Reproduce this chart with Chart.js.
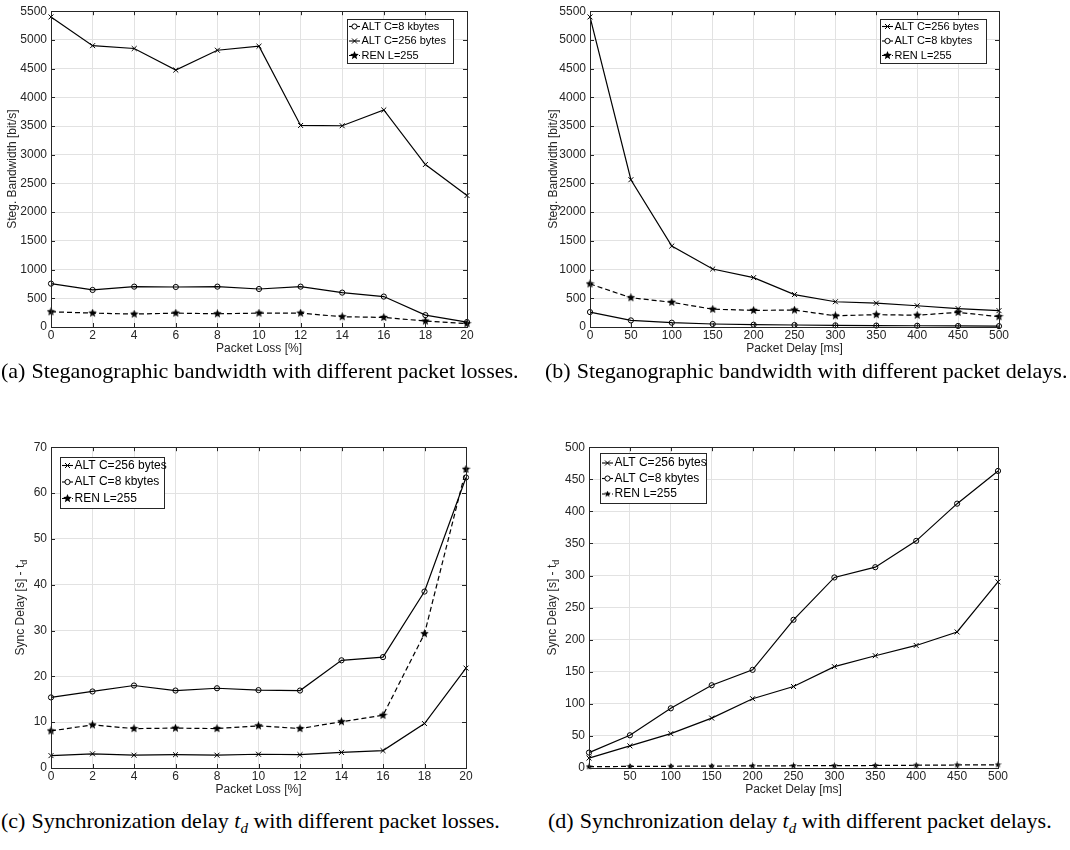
<!DOCTYPE html>
<html>
<head>
<meta charset="utf-8">
<script src="https://cdn.jsdelivr.net/npm/chart.js@4.4.0/dist/chart.umd.min.js"></script>
<style>
    body { margin: 0; background: #fff; width: 1070px; height: 850px; position: relative; overflow: hidden; }
    .panel { position: absolute; }
    .cap { position: absolute; font-family: "Liberation Serif", "Times New Roman", serif; font-size: 22px; line-height: 24px; color: #000; white-space: nowrap; }
    .cap .lbl { margin-right: 6px; }
</style>
</head>
<body>
<div class="panel" style="left:0px;top:0px"><canvas id="chartA" width="530" height="360"></canvas></div>
<div class="panel" style="left:530px;top:0px"><canvas id="chartB" width="540" height="360"></canvas></div>
<div class="panel" style="left:0px;top:436px"><canvas id="chartC" width="530" height="365"></canvas></div>
<div class="panel" style="left:530px;top:436px"><canvas id="chartD" width="540" height="365"></canvas></div>

<div class="cap" style="left:1px;top:359px"><span class="lbl">(a)</span>Steganographic bandwidth with different packet losses.</div>
<div class="cap" style="left:545px;top:359px"><span class="lbl">(b)</span>Steganographic bandwidth with different packet delays.</div>
<div class="cap" style="left:1px;top:809px"><span class="lbl">(c)</span>Synchronization delay <i>t<sub style="font-size:15px">d</sub></i> with different packet losses.</div>
<div class="cap" style="left:548px;top:809px"><span class="lbl">(d)</span>Synchronization delay <i>t<sub style="font-size:15px">d</sub></i> with different packet delays.</div>

<script>
// x values
const lossX = [0, 2, 4, 6, 8, 10, 12, 14, 16, 18, 20];
const delayX = [0, 50, 100, 150, 200, 250, 300, 350, 400, 450, 500];

// (a) bandwidth vs packet loss
const bwLoss8k = [755, 645, 703, 697, 703, 662, 703, 599, 530, 207, 86];
const bwLoss256 = [5400, 4900, 4850, 4475, 4820, 4890, 3510, 3505, 3780, 2830, 2290];
const bwLossRen = [265, 242, 225, 242, 230, 242, 242, 179, 167, 104, 58];

// (b) bandwidth vs packet delay
const bwDelay256 = [5400, 2565, 1410, 1010, 860, 565, 440, 415, 370, 320, 285];
const bwDelay8k = [260, 115, 75, 52, 40, 35, 29, 25, 22, 18, 15];
const bwDelayRen = [750, 510, 430, 310, 290, 295, 195, 215, 205, 255, 180];

// (c) sync delay vs packet loss
const syncLoss256 = [2.7, 3.1, 2.8, 2.9, 2.8, 3.0, 2.9, 3.4, 3.8, 9.7, 21.8];
const syncLoss8k = [15.4, 16.7, 18.0, 16.9, 17.4, 17.0, 16.9, 23.5, 24.2, 38.5, 63.4];
const syncLossRen = [8.1, 9.4, 8.6, 8.7, 8.6, 9.2, 8.6, 10.1, 11.5, 29.3, 65.2];

// (d) sync delay vs packet delay
const syncDelay256 = [15.5, 34.5, 53.6, 77.8, 108, 127, 158, 175, 191, 212, 290];
const syncDelay8k = [24, 51, 93, 129, 153, 231, 297, 313, 354, 412, 463];
const syncDelayRen = [2, 2.5, 2.7, 3, 3.3, 3.5, 3.7, 3.9, 4.3, 4.7, 5];

// axis ranges / tick steps
const bwMax = 5500, bwStep = 500;
const syncLossMax = 70, syncLossStep = 10;
const syncDelayMax = 500, syncDelayStep = 50;

const LABEL_256 = 'ALT C=256 bytes';
const LABEL_8K = 'ALT C=8 kbytes';
const LABEL_REN = 'REN L=255';

const AXIS_COLOR = '#262626';
const FONT = "'Liberation Sans', Arial, sans-serif";

// filled star marker
function starImage(size) {
    const c = document.createElement('canvas');
    c.width = c.height = size;
    const g = c.getContext('2d');
    const cx = size / 2, R = size / 2, r = R * 0.45;
    g.beginPath();
    for (let i = 0; i < 10; i++) {
        const ang = -Math.PI / 2 + i * Math.PI / 5;
        const rad = i % 2 ? r : R;
        g.lineTo(cx + rad * Math.cos(ang), cx + rad * Math.sin(ang));
    }
    g.closePath();
    g.fillStyle = '#000';
    g.fill();
    return c;
}
const starBig = starImage(9);
const starSmall = starImage(7);

function series(label, xs, ys, kind, star) {
    const ds = {
        label: label,
        data: xs.map((x, i) => ({ x: x, y: ys[i] })),
        borderColor: '#000',
        borderWidth: 1.2,
        tension: 0,
        fill: false,
        clip: false,
        pointBorderColor: '#000',
        pointBackgroundColor: 'rgba(0,0,0,0)',
        pointBorderWidth: 1,
        kind: kind
    };
    if (kind === 'circle') {
        ds.pointStyle = 'circle';
        ds.pointRadius = 2.6;
    } else if (kind === 'cross') {
        ds.pointStyle = 'crossRot';
        ds.pointRadius = 3.5;
    } else {
        ds.pointStyle = star || starBig;
        ds.pointRadius = 4;
        ds.borderDash = [5, 3];
    }
    return ds;
}

function drawMarker(ctx, ds, x, y) {
    ctx.save();
    ctx.setLineDash([]);
    ctx.lineWidth = 1;
    ctx.strokeStyle = '#000';
    if (ds.kind === 'circle') {
        ctx.beginPath();
        ctx.arc(x, y, 2.6, 0, Math.PI * 2);
        ctx.fillStyle = '#fff';
        ctx.fill();
        ctx.stroke();
    } else if (ds.kind === 'cross') {
        const r = 2.5;
        ctx.beginPath();
        ctx.moveTo(x - r, y - r); ctx.lineTo(x + r, y + r);
        ctx.moveTo(x - r, y + r); ctx.lineTo(x + r, y - r);
        ctx.stroke();
    } else {
        const img = ds.pointStyle;
        ctx.drawImage(img, x - img.width / 2, y - img.height / 2);
    }
    ctx.restore();
}

// MATLAB-like box, inward ticks, boxed legend, optional subscripted y title
const matlabAxes = {
    id: 'matlabAxes',
    afterDatasetsDraw(chart, args, opts) {
        const { ctx, chartArea: a, scales: { x, y } } = chart;
        ctx.save();
        ctx.strokeStyle = AXIS_COLOR;
        ctx.lineWidth = 1;
        ctx.setLineDash([]);
        ctx.beginPath();
        x.ticks.forEach(t => {
            const px = Math.round(x.getPixelForValue(t.value)) + 0.5;
            ctx.moveTo(px, a.bottom); ctx.lineTo(px, a.bottom - 4);
            ctx.moveTo(px, a.top); ctx.lineTo(px, a.top + 4);
        });
        y.ticks.forEach(t => {
            const py = Math.round(y.getPixelForValue(t.value)) + 0.5;
            ctx.moveTo(a.left, py); ctx.lineTo(a.left + 4, py);
            ctx.moveTo(a.right, py); ctx.lineTo(a.right - 4, py);
        });
        ctx.stroke();
        ctx.strokeRect(Math.round(a.left) + 0.5, Math.round(a.top) + 0.5,
            Math.round(a.right - a.left), Math.round(a.bottom - a.top));

        // legend
        const L = opts.legend;
        if (L) {
            ctx.fillStyle = '#fff';
            ctx.fillRect(L.x, L.y, L.w, L.h);
            ctx.strokeStyle = AXIS_COLOR;
            ctx.strokeRect(L.x + 0.5, L.y + 0.5, L.w, L.h);
            ctx.font = L.font + 'px ' + FONT;
            ctx.textBaseline = 'middle';
            ctx.textAlign = 'left';
            chart.data.datasets.forEach((ds, i) => {
                const ry = L.y + L.start + i * L.gap;
                ctx.save();
                ctx.strokeStyle = '#000';
                ctx.lineWidth = 1.1;
                ctx.setLineDash(ds.kind === 'star' ? [3, 2] : []);
                ctx.beginPath();
                ctx.moveTo(L.x + 2, ry);
                ctx.lineTo(L.x + 13, ry);
                ctx.stroke();
                ctx.restore();
                drawMarker(ctx, ds, L.x + 7.5, ry);
                ctx.fillStyle = '#000';
                ctx.fillText(ds.label, L.x + 14.5, ry);
            });
        }

        // y title with subscript t_d
        const T = opts.yTitle;
        if (T) {
            ctx.translate(T.x, (a.top + a.bottom) / 2);
            ctx.rotate(-Math.PI / 2);
            ctx.fillStyle = AXIS_COLOR;
            ctx.textBaseline = 'middle';
            ctx.font = '12px ' + FONT;
            const w1 = ctx.measureText(T.text).width;
            ctx.font = '9px ' + FONT;
            const w2 = ctx.measureText(T.sub).width;
            const x0 = -(w1 + w2) / 2;
            ctx.font = '12px ' + FONT;
            ctx.textAlign = 'left';
            ctx.fillText(T.text, x0, 0);
            ctx.font = '9px ' + FONT;
            ctx.fillText(T.sub, x0 + w1, 4);
        }
        ctx.restore();
    }
};

function makeChart(id, cfg) {
    const canvas = document.getElementById(id);
    return new Chart(canvas.getContext('2d'), {
        type: 'line',
        data: { datasets: cfg.datasets },
        plugins: [matlabAxes],
        options: {
            responsive: false,
            animation: false,
            events: [],
            layout: { padding: { left: 0, right: cfg.padRight, top: 8, bottom: 0 } },
            scales: {
                x: {
                    type: 'linear',
                    min: cfg.xMin, max: cfg.xMax,
                    afterFit: (scale) => { scale.height = 33; },
                    afterBuildTicks: (scale) => { scale.ticks = cfg.xTicks.map(v => ({ value: v })); },
                    ticks: {
                        autoSkip: false, maxRotation: 0, padding: 1,
                        color: AXIS_COLOR, font: { family: FONT, size: 12 },
                        callback: cfg.xLabel || ((v) => String(v))
                    },
                    grid: { color: '#e2e2e2', drawTicks: false },
                    border: { display: false },
                    title: {
                        display: true, text: cfg.xTitle, color: AXIS_COLOR,
                        font: { family: FONT, size: 12 }, padding: { top: 0, bottom: 4 }
                    }
                },
                y: {
                    min: 0, max: cfg.yMax,
                    afterFit: (scale) => { scale.width = cfg.yWidth; },
                    ticks: {
                        stepSize: cfg.yStep, autoSkip: false, padding: 4,
                        color: AXIS_COLOR, font: { family: FONT, size: 12 },
                        callback: (v) => String(v)
                    },
                    grid: { color: '#e2e2e2', drawTicks: false },
                    border: { display: false },
                    title: {
                        display: !!cfg.yTitle, text: cfg.yTitle, color: AXIS_COLOR,
                        font: { family: FONT, size: 12 }, padding: { top: cfg.yTitlePad, bottom: 0 }
                    }
                }
            },
            plugins: {
                legend: { display: false },
                tooltip: { enabled: false },
                matlabAxes: { legend: cfg.legend, yTitle: cfg.ySubTitle }
            }
        }
    });
}

makeChart('chartA', {
    datasets: [
        series(LABEL_8K, lossX, bwLoss8k, 'circle'),
        series(LABEL_256, lossX, bwLoss256, 'cross'),
        series(LABEL_REN, lossX, bwLossRen, 'star')
    ],
    xMin: 0, xMax: 20, xTicks: lossX, xTitle: 'Packet Loss [%]',
    yMax: bwMax, yStep: bwStep, yWidth: 51, padRight: 63,
    yTitle: 'Steg. Bandwidth [bit/s]', yTitlePad: 5,
    legend: { x: 347, y: 19, w: 106, h: 44, start: 7.5, gap: 14.5, font: 11 }
});

makeChart('chartB', {
    datasets: [
        series(LABEL_256, delayX, bwDelay256, 'cross'),
        series(LABEL_8K, delayX, bwDelay8k, 'circle'),
        series(LABEL_REN, delayX, bwDelayRen, 'star')
    ],
    xMin: 0, xMax: 500, xTicks: delayX, xTitle: 'Packet Delay [ms]',
    yMax: bwMax, yStep: bwStep, yWidth: 60, padRight: 71,
    yTitle: 'Steg. Bandwidth [bit/s]', yTitlePad: 16,
    legend: { x: 350, y: 19, w: 106, h: 44, start: 7.5, gap: 14.5, font: 11 }
});

makeChart('chartC', {
    datasets: [
        series(LABEL_256, lossX, syncLoss256, 'cross'),
        series(LABEL_8K, lossX, syncLoss8k, 'circle'),
        series(LABEL_REN, lossX, syncLossRen, 'star')
    ],
    xMin: 0, xMax: 20, xTicks: lossX, xTitle: 'Packet Loss [%]',
    yMax: syncLossMax, yStep: syncLossStep, yWidth: 51, padRight: 64,
    ySubTitle: { x: 21, text: 'Sync Delay [s] - t', sub: 'd' },
    legend: { x: 60, y: 21, w: 104, h: 51, start: 8.5, gap: 16.5, font: 12 }
});

makeChart('chartD', {
    datasets: [
        series(LABEL_256, delayX, syncDelay256, 'cross'),
        series(LABEL_8K, delayX, syncDelay8k, 'circle'),
        series(LABEL_REN, delayX, syncDelayRen, 'star', starSmall)
    ],
    xMin: 0, xMax: 500, xTicks: delayX, xTitle: 'Packet Delay [ms]',
    xLabel: (v) => (v === 0 ? '' : String(v)),
    yMax: syncDelayMax, yStep: syncDelayStep, yWidth: 59, padRight: 72,
    ySubTitle: { x: 23, text: 'Sync Delay [s] - t', sub: 'd' },
    legend: { x: 70, y: 17, w: 106, h: 50, start: 10, gap: 15.5, font: 12 }
});
</script>
</body>
</html>
